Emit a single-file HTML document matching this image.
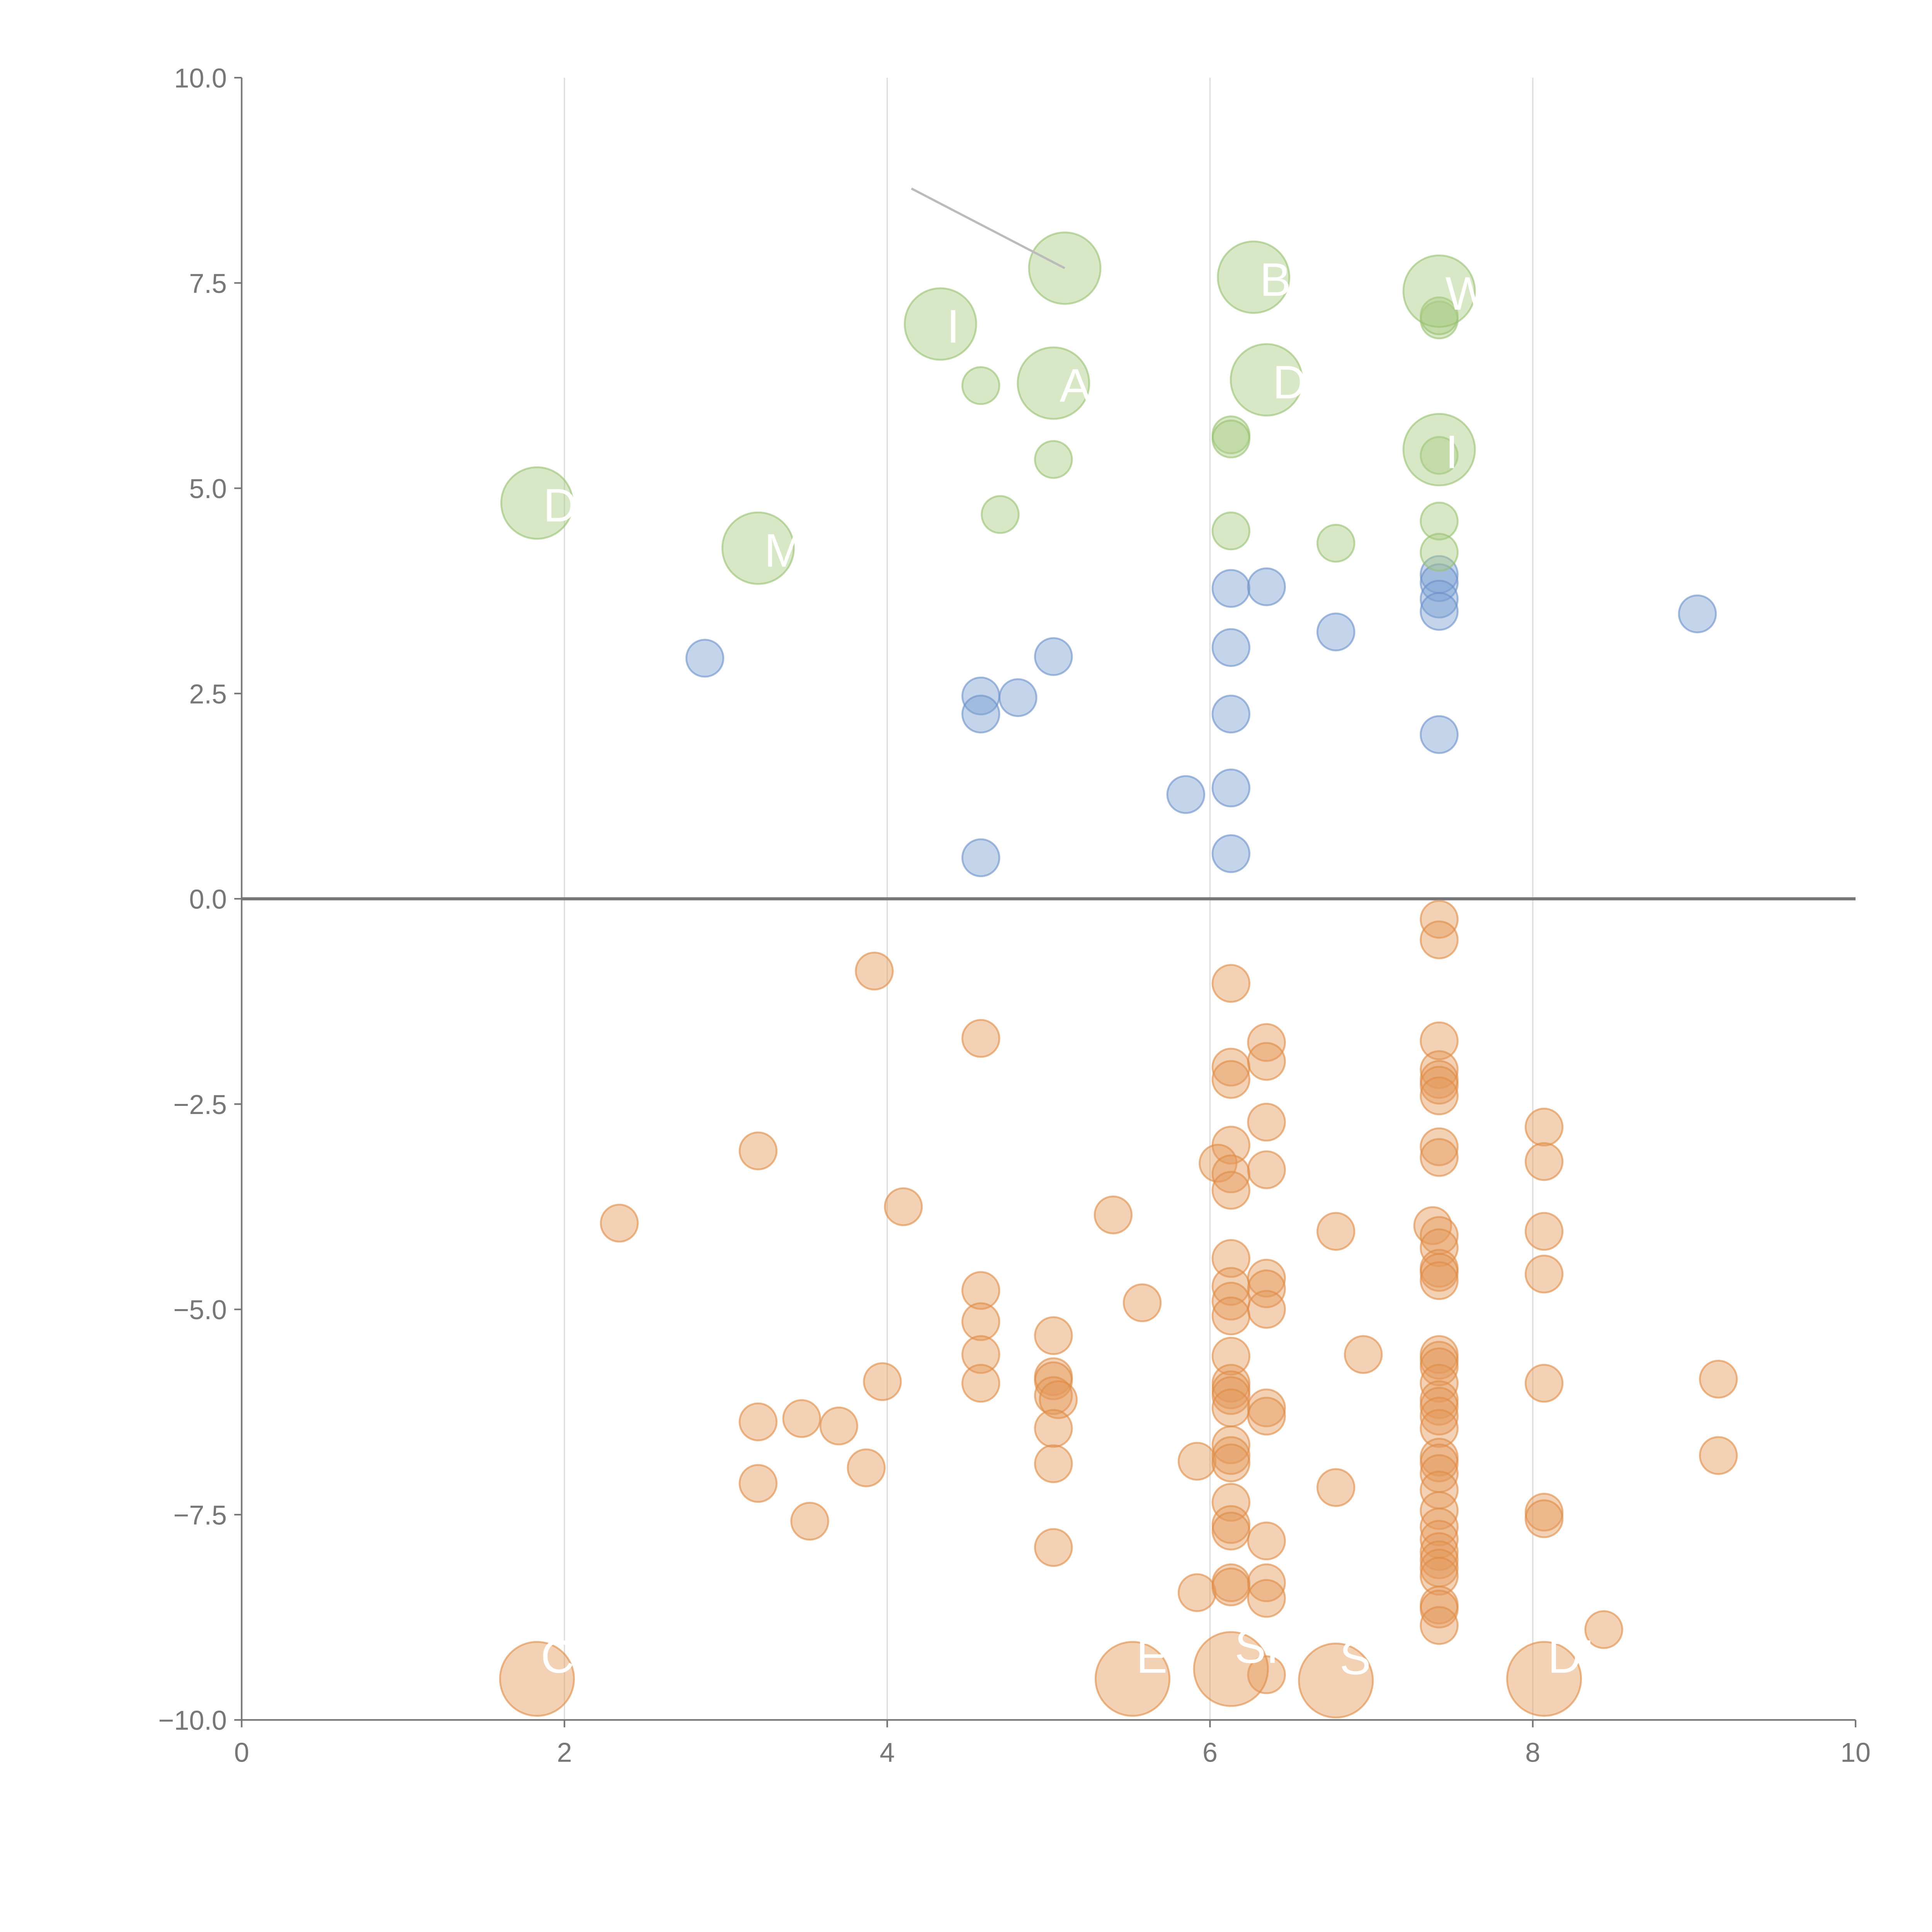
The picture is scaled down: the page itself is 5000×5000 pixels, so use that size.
<!DOCTYPE html>
<html><head><meta charset="utf-8"><style>
html,body{margin:0;padding:0;background:#fff;}
svg{display:block;}
text{font-family:"Liberation Sans",Arial,sans-serif;}
</style></head><body>
<svg id="chart" width="5000" height="5000" viewBox="0 0 1567 1567" xmlns="http://www.w3.org/2000/svg">
<g id="grid"></g>
<g id="axes"></g>
<g id="marks"></g>
<g id="labels"></g>
</svg>
<script>
const xTicks=[0,2,4,6,8,10];
const yTicks=[10,7.5,5,2.5,0,-2.5,-5,-7.5,-10];
const yTickLabels=["10.0","7.5","5.0","2.5","0.0","\u22122.5","\u22125.0","\u22127.5","\u221210.0"];
const greenSmallX=[4.58,5.03,4.7,6.13,6.13,6.13,6.78,7.42,7.42,7.42,7.42,7.42];
const greenSmallY=[6.25,5.35,4.68,5.65,5.6,4.48,4.33,7.05,7.1,5.4,4.6,4.22];
const greenLargeX=[1.83,3.2,4.33,5.1,5.03,6.27,6.35,7.42,7.42];
const greenLargeY=[4.82,4.27,7.0,7.68,6.28,7.57,6.32,7.4,5.47];
const blueX=[2.87,4.58,4.58,4.81,5.03,4.58,5.85,6.13,6.35,6.13,6.13,6.13,6.13,6.78,7.42,7.42,7.42,7.42,7.42,9.02];
const blueY=[2.93,2.47,2.25,2.45,2.95,0.5,1.27,3.78,3.8,3.06,2.25,1.35,0.55,3.25,3.95,3.85,3.65,3.5,2.0,3.47];
const orangeX=[3.92,4.58,3.2,2.34,4.1,5.4,5.58,4.58,4.58,4.58,4.58,5.03,5.03,5.03,5.03,5.06,5.03,5.03,5.03,3.97,3.2,3.47,3.7,3.2,3.87,3.52,5.92,5.92,
6.13,6.13,6.13,6.13,6.05,6.13,6.13,6.13,6.13,6.13,6.13,6.13,6.13,6.13,6.13,6.13,6.13,6.13,6.13,6.13,6.13,6.13,6.13,6.13,
6.35,6.35,6.35,6.35,6.35,6.35,6.35,6.35,6.35,6.35,6.35,6.35,6.35,
6.78,6.78,6.95,
7.42,7.42,7.42,7.42,7.42,7.42,7.42,7.42,7.42,7.38,7.42,7.42,7.42,7.42,7.42,7.42,7.42,7.42,7.42,7.42,7.42,7.42,7.42,7.42,7.42,7.42,7.42,7.42,7.42,7.42,7.42,7.42,7.42,7.42,7.42,7.42,7.42,
8.07,8.07,8.07,8.07,8.07,8.07,8.07,8.44,9.15,9.15];
const orangeY=[-0.88,-1.7,-3.07,-3.95,-3.75,-3.85,-4.92,-4.77,-5.15,-5.55,-5.9,-5.32,-5.82,-5.87,-6.05,-6.1,-6.45,-6.88,-7.9,-5.88,-6.37,-6.33,-6.42,-7.12,-6.93,-7.58,-6.85,-8.45,
-1.03,-2.05,-2.2,-3.0,-3.22,-3.35,-3.55,-4.38,-4.72,-4.9,-5.08,-5.57,-5.9,-5.98,-6.05,-6.2,-6.65,-6.78,-6.87,-7.35,-7.62,-7.7,-8.33,-8.38,
-1.75,-1.98,-2.72,-3.3,-4.62,-4.75,-5.0,-6.2,-6.3,-7.82,-8.33,-8.52,-9.45,
-4.05,-7.17,-5.55,
-0.25,-0.5,-1.73,-2.08,-2.2,-2.27,-2.4,-3.02,-3.15,-3.98,-4.1,-4.25,-4.5,-4.55,-4.65,-5.55,-5.62,-5.7,-5.9,-6.1,-6.18,-6.3,-6.45,-6.8,-6.87,-7.0,-7.2,-7.45,-7.65,-7.8,-7.95,-8.05,-8.15,-8.25,-8.6,-8.65,-8.85,
-2.78,-3.2,-4.05,-4.57,-5.9,-7.47,-7.55,-8.9,-5.85,-6.78];
const orangeLargeX=[1.83,5.52,6.13,6.78,8.07];
const orangeLargeY=[-9.5,-9.5,-9.38,-9.52,-9.5];
const largeLabels=["D","M","I","","AT","B","D","W","I"];
const orangeLabels=["C","E","SI","ST","DI"];

const NS="http://www.w3.org/2000/svg";
const X0=196,X1=1505,Y0=1395,Y1=63;
function sx(v){return X0+(v-0)/(10-0)*(X1-X0);}
function sy(v){return Y0-(v+10)/20*(Y0-Y1);}
function mk(tag,attrs,parent){const e=document.createElementNS(NS,tag);for(const k in attrs)e.setAttribute(k,attrs[k]);parent.appendChild(e);return e;}
const grid=document.getElementById('grid'),axes=document.getElementById('axes'),marks=document.getElementById('marks'),labels=document.getElementById('labels');

[2,4,6,8].forEach(v=>{const l=mk('line',{x1:sx(v),x2:sx(v),y1:Y1,y2:Y0,stroke:'#dcdcdc','stroke-width':1},grid);

});
let a=mk('line',{x1:X0,x2:X0,y1:Y1,y2:Y0,stroke:'#777','stroke-width':1.3},axes);


a=mk('line',{x1:X0,x2:X1,y1:Y0,y2:Y0,stroke:'#777','stroke-width':1.3},axes);


a=mk('line',{x1:X0,x2:X1,y1:sy(0),y2:sy(0),stroke:'#777','stroke-width':2.5},axes);


xTicks.forEach(v=>{mk('line',{x1:sx(v),x2:sx(v),y1:Y0,y2:Y0+6,stroke:'#777','stroke-width':1.3},axes);
const t=mk('text',{x:sx(v),y:Y0+34,'text-anchor':'middle','font-size':22,fill:'#777'},axes);t.textContent=v;

});
yTicks.forEach((v,i)=>{mk('line',{x1:X0-6,x2:X0,y1:sy(v),y2:sy(v),stroke:'#777','stroke-width':1.3},axes);
const t=mk('text',{x:X0-12,y:sy(v)+8,'text-anchor':'end','font-size':22,fill:'#777'},axes);t.textContent=yTickLabels[i];

});

a=mk('line',{x1:sx(4.15),y1:sy(8.65),x2:sx(5.1),y2:sy(7.68),stroke:'#bbb','stroke-width':1.8},labels);



function drawSeries(xs,ys,r,fill,stroke,name){
 xs.forEach((x,i)=>{const c=mk('circle',{cx:sx(x),cy:sy(ys[i]),r:r,fill:fill,'fill-opacity':0.45,stroke:stroke,'stroke-opacity':0.6,'stroke-width':1.5},marks);
 
 });
}
drawSeries(orangeX,orangeY,15,'#e59a5c','#e08a45','orange-point');
drawSeries(orangeLargeX,orangeLargeY,30,'#e59a5c','#e08a45','orange-large-point');
drawSeries(blueX,blueY,15,'#7b9fd3','#6a8fc8','blue-point');
drawSeries(greenSmallX,greenSmallY,15,'#a9cc82','#98c070','green-point');
drawSeries(greenLargeX,greenLargeY,29,'#a9cc82','#98c070','green-large-point');

greenLargeX.forEach((x,i)=>{if(!largeLabels[i])return;const t=mk('text',{x:sx(x)+5,y:sy(greenLargeY[i])+15,'font-size':38,fill:'#fff'},labels);t.textContent=largeLabels[i];

});
orangeLargeX.forEach((x,i)=>{const t=mk('text',{x:sx(x)+3,y:sy(orangeLargeY[i])-5,'font-size':38,fill:'#fff'},labels);t.textContent=orangeLabels[i];

});
</script>
</body></html>
